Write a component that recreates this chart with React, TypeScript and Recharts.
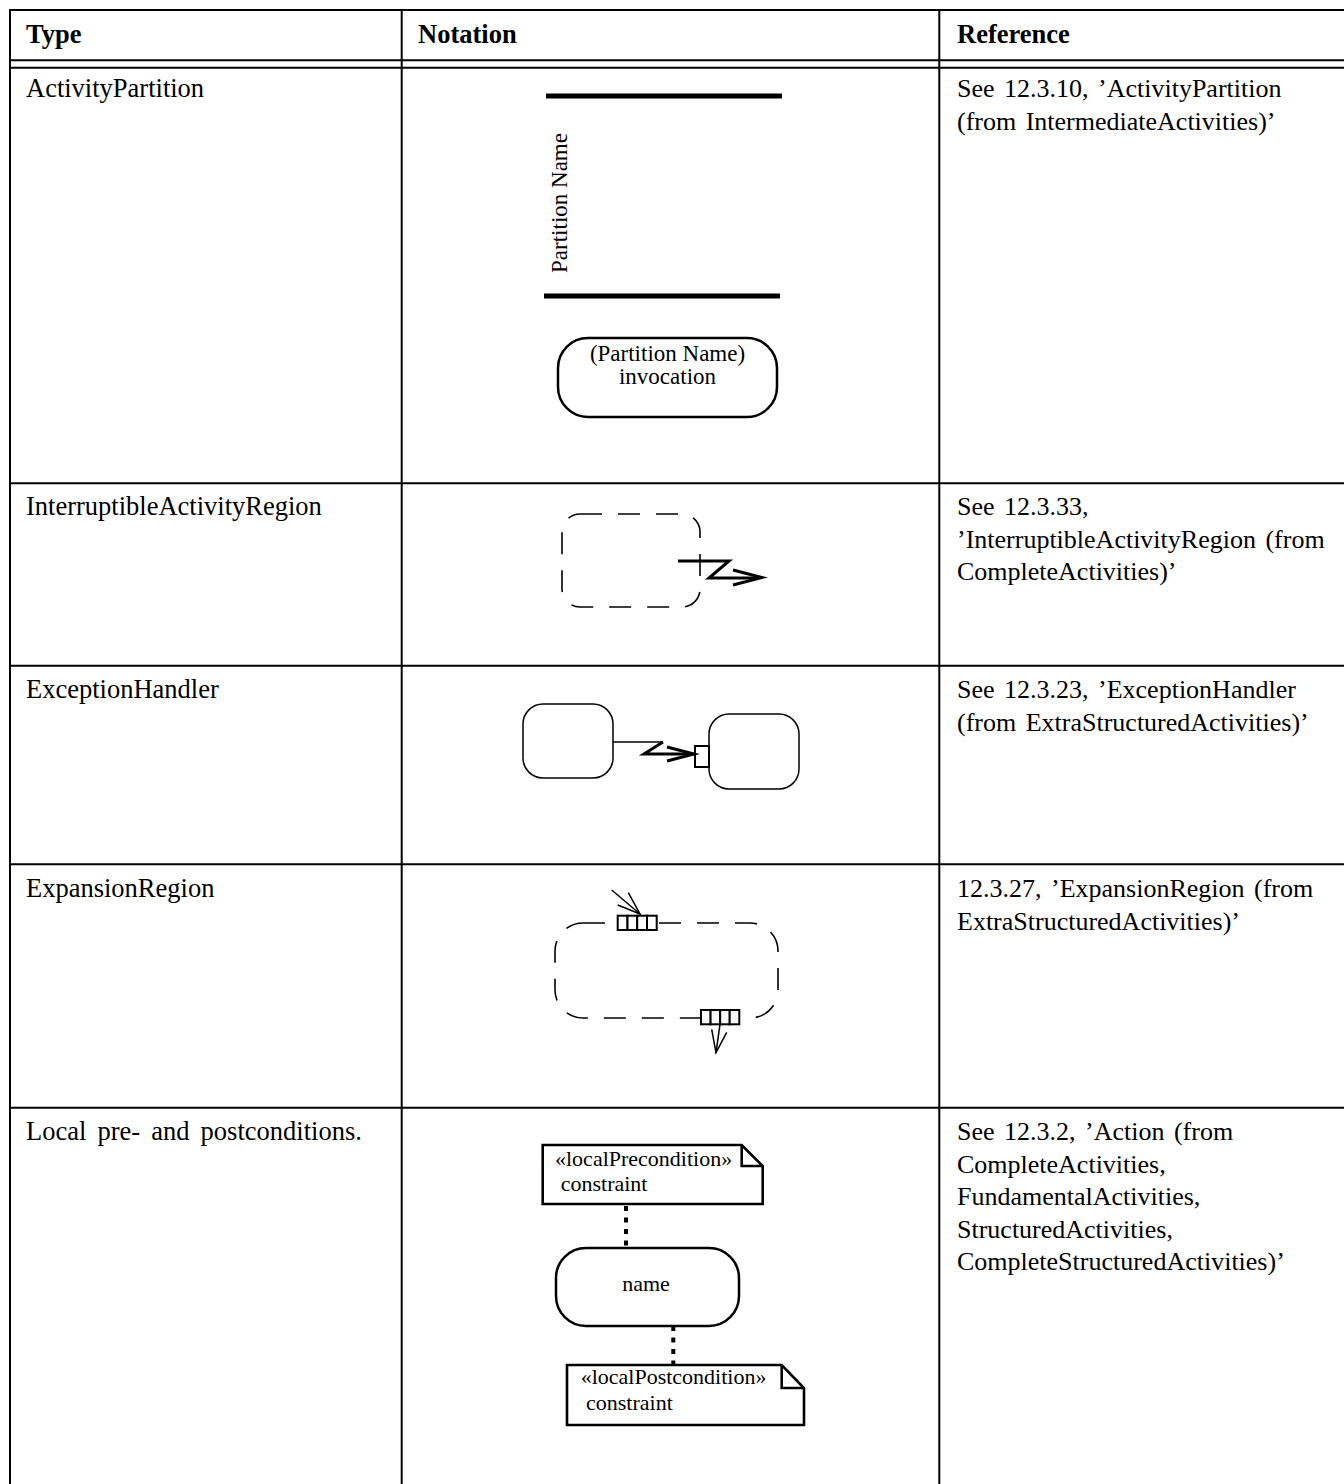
import React from "react";
import {
  ComposedChart,
  XAxis,
  YAxis,
  Line,
  Scatter,
  ReferenceLine,
  ReferenceArea,
} from "recharts";

const W = 1344;
const H = 1484;
const FONT = "'Liberation Serif', 'Times New Roman', Times, serif";

// ---- table grid (page units) ----
const columnRules = [10, 401.7, 939.3];
const rowRules = [10, 60.3, 67.7, 483.3, 665.7, 864.3, 1107.7];

// ---- table text ----
const headerLabels = ["Type", "Notation", "Reference"];
const columnTextX = [26, 418, 957];
const headerBaseline = 43;
const typeLabels = [
  "ActivityPartition",
  "InterruptibleActivityRegion",
  "ExceptionHandler",
  "ExpansionRegion",
  "Local pre- and postconditions.",
];
const rowBaselines = [97, 515, 698, 897, 1140];
const lineStep = 32.5;
const referenceTexts = [
  ["See 12.3.10, \u2019ActivityPartition", "(from IntermediateActivities)\u2019"],
  ["See 12.3.33,", "\u2019InterruptibleActivityRegion (from", "CompleteActivities)\u2019"],
  ["See 12.3.23, \u2019ExceptionHandler", "(from ExtraStructuredActivities)\u2019"],
  ["12.3.27, \u2019ExpansionRegion (from", "ExtraStructuredActivities)\u2019"],
  [
    "See 12.3.2, \u2019Action (from",
    "CompleteActivities,",
    "FundamentalActivities,",
    "StructuredActivities,",
    "CompleteStructuredActivities)\u2019",
  ],
];

// ---- notation drawings ----
const partitionBars = [
  { x1: 546, x2: 782, y: 96 },
  { x1: 544, x2: 780, y: 296 },
];
const partitionLabel = [{ x: 567, y: 203, text: "Partition Name" }];
const invocationLabels = [
  { x: 667.5, y: 361, text: "(Partition Name)" },
  { x: 667.5, y: 384, text: "invocation" },
];

// rounded action boxes
const heavyBoxes = [
  { x1: 558, x2: 777, y1: 338, y2: 417, r: 30 },
  { x1: 556, x2: 739, y1: 1248, y2: 1326, r: 30 },
];
const lightBoxes = [
  { x1: 523, x2: 613, y1: 704, y2: 778, r: 20 },
  { x1: 709, x2: 799, y1: 714, y2: 789, r: 20 },
];
const dashedRegions = [
  { x1: 562, x2: 700, y1: 514, y2: 607, r: 18 },
  { x1: 555, x2: 778, y1: 923, y2: 1018, r: 28 },
];

// interrupting edges
const interruptZigzag = [
  { x: 678, y: 561 },
  { x: 729, y: 561 },
  { x: 709, y: 578 },
  { x: 759, y: 578 },
];
const interruptHead = [
  { x: 733, y: 570 },
  { x: 762, y: 577.5 },
  { x: 733, y: 585 },
];
const handlerLead = [
  { x: 613, y: 742 },
  { x: 663, y: 742 },
];
const handlerZigzag = [
  { x: 663, y: 742 },
  { x: 644, y: 754 },
  { x: 692, y: 754 },
];
const handlerHead = [
  { x: 667, y: 747 },
  { x: 694, y: 754 },
  { x: 667, y: 761 },
];
const handlerPin = [{ x1: 695, x2: 709, y1: 746, y2: 767 }];

// expansion region pins and arrows
const inputPinCells = [617.7, 627.5, 637.2, 647, 656.7];
const inputPinY = [915.7, 930];
const outputPinCells = [701, 710.6, 720.2, 729.7, 739.3];
const outputPinY = [1010, 1024.3];
const inputShaft = [
  { x: 611.7, y: 890 },
  { x: 640, y: 914 },
];
const inputHead = [
  { x: 628.3, y: 892.7 },
  { x: 640, y: 914 },
  { x: 617.7, y: 905 },
];
const outputShaft = [
  { x: 720, y: 1024.3 },
  { x: 716, y: 1052.7 },
];
const outputHead = [
  { x: 711.7, y: 1029.3 },
  { x: 716, y: 1052.7 },
  { x: 726.7, y: 1032.3 },
];

// constraint notes
const preNote = [
  { x: 600, y: 1145 },
  { x: 741.7, y: 1145 },
  { x: 762.7, y: 1166 },
  { x: 762.7, y: 1204 },
  { x: 542.7, y: 1204 },
  { x: 542.7, y: 1145 },
  { x: 600, y: 1145 },
];
const preFold = [
  { x: 741.7, y: 1145 },
  { x: 741.7, y: 1166 },
  { x: 762.7, y: 1166 },
];
const postNote = [
  { x: 650, y: 1365 },
  { x: 781.7, y: 1365 },
  { x: 804, y: 1388 },
  { x: 804, y: 1425 },
  { x: 567, y: 1425 },
  { x: 567, y: 1365 },
  { x: 650, y: 1365 },
];
const postFold = [
  { x: 781.7, y: 1365 },
  { x: 781.7, y: 1388 },
  { x: 804, y: 1388 },
];
const noteLinks = [
  { x: 626, y1: 1206, y2: 1248 },
  { x: 673.3, y1: 1326, y2: 1365 },
];
const noteLabels = [
  { x: 555, y: 1166, text: "\u00ablocalPrecondition\u00bb" },
  { x: 560.7, y: 1191, text: "constraint" },
  { x: 580.7, y: 1384, text: "\u00ablocalPostcondition\u00bb" },
  { x: 586, y: 1410, text: "constraint" },
];
const actionLabel = [{ x: 646, y: 1291, text: "name" }];

// ---- derived series ----
const headerItems = headerLabels.map((text, i) => ({ x: columnTextX[i], y: headerBaseline, text }));
const typeItems = typeLabels.map((text, i) => ({ x: columnTextX[0], y: rowBaselines[i], text }));
const referenceItems = referenceTexts.flatMap((lines, i) =>
  lines.map((text, j) => ({ x: columnTextX[2], y: rowBaselines[i] + j * lineStep, text }))
);
const pinCells = (edges: number[], ys: number[]) =>
  edges.slice(0, -1).map((x1, i) => ({ x1, x2: edges[i + 1], y1: ys[0], y2: ys[1] }));

const textShape =
  (size: number, weight: number, anchor: "start" | "middle", rotate = false, spacing = 0) =>
  (p: any) =>
    (
      <text
        x={p.cx}
        y={p.cy}
        fontFamily={FONT}
        fontSize={size}
        fontWeight={weight}
        textAnchor={anchor}
        wordSpacing={spacing}
        fill="#000"
        transform={rotate ? `rotate(-90 ${p.cx} ${p.cy})` : undefined}
      >
        {p.payload.text}
      </text>
    );

const roundRect = (r: number, width: number, dash?: string, fill = "none") => (p: any) =>
  (
    <rect
      x={p.x}
      y={p.y}
      width={p.width}
      height={p.height}
      rx={r}
      ry={r}
      fill={fill}
      stroke="#000"
      strokeWidth={width}
      strokeDasharray={dash}
    />
  );

const polyline = (key: string, pts: { x: number; y: number }[], width: number) => (
  <Line
    key={key}
    data={pts}
    dataKey="y"
    type="linear"
    stroke="#000"
    strokeWidth={width}
    strokeLinejoin="miter"
    dot={false}
    activeDot={false}
    isAnimationActive={false}
  />
);

export default function App() {
  return (
    <div style={{ position: "absolute", left: 0, top: 0, background: "#fff" }}>
      <ComposedChart width={W} height={H} margin={{ top: 0, right: 0, bottom: 0, left: 0 }}>
        <XAxis type="number" dataKey="x" domain={[0, W]} hide allowDataOverflow />
        <YAxis type="number" dataKey="y" domain={[0, H]} reversed hide allowDataOverflow />

        {/* table rules */}
        {columnRules.map((x) => (
          <ReferenceLine
            key={`c${x}`}
            segment={[{ x, y: 9 }, { x, y: H }]}
            stroke="#000"
            strokeWidth={2}
          />
        ))}
        {rowRules.map((y) => (
          <ReferenceLine
            key={`r${y}`}
            segment={[{ x: 9, y }, { x: W, y }]}
            stroke="#000"
            strokeWidth={2}
          />
        ))}

        {/* ActivityPartition */}
        {partitionBars.map((b, i) => (
          <ReferenceLine
            key={`pb${i}`}
            segment={[{ x: b.x1, y: b.y }, { x: b.x2, y: b.y }]}
            stroke="#000"
            strokeWidth={5}
          />
        ))}
        {heavyBoxes.map((b, i) => (
          <ReferenceArea key={`hb${i}`} x1={b.x1} x2={b.x2} y1={b.y1} y2={b.y2} shape={roundRect(b.r, 2.5)} />
        ))}
        {lightBoxes.map((b, i) => (
          <ReferenceArea key={`lb${i}`} x1={b.x1} x2={b.x2} y1={b.y1} y2={b.y2} shape={roundRect(b.r, 1.5)} />
        ))}
        {dashedRegions.map((b, i) => (
          <ReferenceArea key={`dr${i}`} x1={b.x1} x2={b.x2} y1={b.y1} y2={b.y2} shape={roundRect(b.r, 1.6, "22 16")} />
        ))}

        {/* pins */}
        {handlerPin.map((b, i) => (
          <ReferenceArea key={`hp${i}`} x1={b.x1} x2={b.x2} y1={b.y1} y2={b.y2} shape={roundRect(0, 2, undefined, "#fff")} />
        ))}
        {[...pinCells(inputPinCells, inputPinY), ...pinCells(outputPinCells, outputPinY)].map((b, i) => (
          <ReferenceArea key={`pc${i}`} x1={b.x1} x2={b.x2} y1={b.y1} y2={b.y2} shape={roundRect(0, 2, undefined, "#fff")} />
        ))}

        {/* edges */}
        {polyline("iz", interruptZigzag, 3)}
        {polyline("ih", interruptHead, 3)}
        {polyline("hl", handlerLead, 1.6)}
        {polyline("hz", handlerZigzag, 3)}
        {polyline("hh", handlerHead, 3)}
        {polyline("is", inputShaft, 1.5)}
        {polyline("ihd", inputHead, 1.5)}
        {polyline("os", outputShaft, 1.5)}
        {polyline("ohd", outputHead, 1.5)}

        {/* notes */}
        {polyline("pn", preNote, 2.6)}
        {polyline("pf", preFold, 2.6)}
        {polyline("qn", postNote, 2.6)}
        {polyline("qf", postFold, 2.6)}
        {noteLinks.map((l, i) => (
          <ReferenceLine
            key={`nl${i}`}
            segment={[{ x: l.x, y: l.y1 }, { x: l.x, y: l.y2 }]}
            stroke="#000"
            strokeWidth={4}
            strokeDasharray="5 6.5"
          />
        ))}

        {/* text */}
        <Scatter data={headerItems} shape={textShape(26.5, 700, "start")} isAnimationActive={false} />
        <Scatter data={typeItems} shape={textShape(26.5, 400, "start", false, 4.5)} isAnimationActive={false} />
        <Scatter data={referenceItems} shape={textShape(26, 400, "start", false, 3)} isAnimationActive={false} />
        <Scatter data={partitionLabel} shape={textShape(23, 400, "middle", true)} isAnimationActive={false} />
        <Scatter data={invocationLabels} shape={textShape(23, 400, "middle")} isAnimationActive={false} />
        <Scatter data={actionLabel} shape={textShape(22, 400, "middle")} isAnimationActive={false} />
        <Scatter data={noteLabels} shape={textShape(22, 400, "start")} isAnimationActive={false} />
      </ComposedChart>
    </div>
  );
}
